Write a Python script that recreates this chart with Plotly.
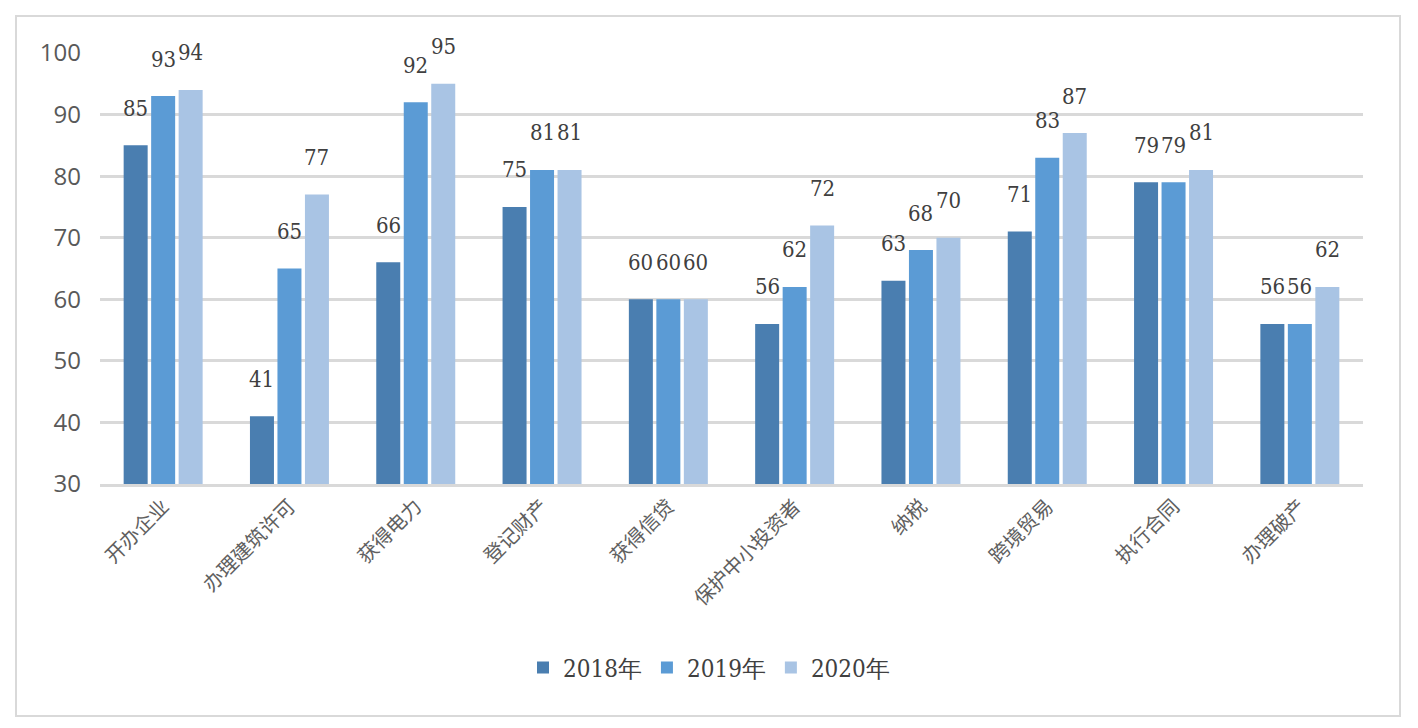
import plotly.graph_objects as go

categories = ["开办企业", "办理建筑许可", "获得电力", "登记财产", "获得信贷",
              "保护中小投资者", "纳税", "跨境贸易", "执行合同", "办理破产"]
series_names = ["2018年", "2019年", "2020年"]
values_2018 = [85, 41, 66, 75, 60, 56, 63, 71, 79, 56]
values_2019 = [93, 65, 92, 81, 60, 62, 68, 83, 79, 56]
values_2020 = [94, 77, 95, 81, 60, 72, 70, 87, 81, 62]
y_ticks = [30, 40, 50, 60, 70, 80, 90, 100]

colors = ["#4A7EB0", "#5B9BD5", "#A9C4E4"]
all_values = [values_2018, values_2019, values_2020]

OFF = 8  # page body margin
W, H = 1418 - 2 * OFF, 728 - 2 * OFF
ml, mr, mt, mb = 100 - OFF, W - (1363 - OFF), 53 - OFF, H - (484 - OFF)
plot_w = W - ml - mr
plot_h = H - mt - mb

SERIF = "'DejaVu Serif Condensed', 'DejaVu Serif', serif"

fig = go.Figure()
for name, vals, col in zip(series_names, all_values, colors):
    fig.add_trace(go.Bar(x=categories, y=vals, name=name, marker=dict(color=col, line=dict(width=0))))

bargap = 0.347
cat_w = plot_w / len(categories)
slot = cat_w * (1 - bargap) / 3
annotations = []
for i, vals in enumerate(all_values):
    for c, v in zip(categories, vals):
        annotations.append(dict(
            x=c, y=v, xref="x", yref="y", text=str(v), showarrow=False,
            xshift=(i - 1) * slot, yshift=37, yanchor="middle",
            font=dict(family=SERIF, size=22, color="#404040"),
        ))

def px_to_paper_x(px):
    return (px - OFF - ml) / plot_w

def px_to_paper_y(py):
    return (H - mb - (py - OFF)) / plot_h

fig.update_layout(
    width=W, height=H,
    margin=dict(l=ml, r=mr, t=mt, b=mb),
    paper_bgcolor="white", plot_bgcolor="white",
    barmode="group", bargap=bargap, bargroupgap=0.127,
    annotations=annotations,
    shapes=[dict(type="rect", xref="paper", yref="paper",
                 x0=px_to_paper_x(16), x1=px_to_paper_x(1400),
                 y0=px_to_paper_y(716), y1=px_to_paper_y(16),
                 line=dict(color="#D9D9D9", width=2), fillcolor="rgba(0,0,0,0)", layer="below")],
    legend=dict(orientation="h", x=px_to_paper_x(709), xanchor="center",
                y=px_to_paper_y(668), yanchor="middle",
                font=dict(family=SERIF, size=24, color="#404040"),
                itemwidth=30, traceorder="normal"),
    yaxis=dict(range=[30, 100], tickvals=y_ticks, showgrid=True, gridcolor="#D9D9D9", gridwidth=2.5,
               zeroline=False, showline=False, ticklabelstandoff=18,
               tickfont=dict(family="Open Sans", size=24, color="#595959")),
    xaxis=dict(tickangle=-45, showline=True, linecolor="#D9D9D9", linewidth=2.5,
               tickfont=dict(family="Noto Sans CJK SC", size=20, color="#606060")),
    font=dict(family="Noto Sans CJK SC"),
)

fig.write_html("out.html")
